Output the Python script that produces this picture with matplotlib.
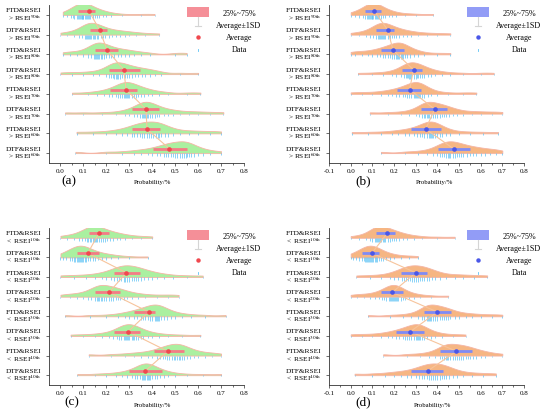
import numpy as np
import matplotlib
matplotlib.use('Agg')
import matplotlib.pyplot as plt
from matplotlib.patches import Rectangle
from matplotlib.lines import Line2D

plt.rcParams['font.family'] = ['Liberation Serif', 'DejaVu Serif']
plt.rcParams['mathtext.fontset'] = 'stix'

# row labels, top to bottom
labels_gt = ['FTD&RSEI\n> RSEI$^{\\mathrm{90th}}$', 'DTF&RSEI\n> RSEI$^{\\mathrm{90th}}$',
             'FTD&RSEI\n> RSEI$^{\\mathrm{80th}}$', 'DTF&RSEI\n> RSEI$^{\\mathrm{80th}}$',
             'FTD&RSEI\n> RSEI$^{\\mathrm{70th}}$', 'DTF&RSEI\n> RSEI$^{\\mathrm{70th}}$',
             'FTD&RSEI\n> RSEI$^{\\mathrm{60th}}$', 'DTF&RSEI\n> RSEI$^{\\mathrm{60th}}$']
labels_lt = ['FTD&RSEI\n<  RSEI$^{\\mathrm{10th}}$', 'DTF&RSEI\n<  RSEI$^{\\mathrm{10th}}$',
             'FTD&RSEI\n<  RSEI$^{\\mathrm{20th}}$', 'DTF&RSEI\n<  RSEI$^{\\mathrm{20th}}$',
             'FTD&RSEI\n<  RSEI$^{\\mathrm{30th}}$', 'DTF&RSEI\n<  RSEI$^{\\mathrm{30th}}$',
             'FTD&RSEI\n<  RSEI$^{\\mathrm{40th}}$', 'DTF&RSEI\n<  RSEI$^{\\mathrm{40th}}$']

mean_a = [0.123, 0.171, 0.203, 0.276, 0.286, 0.373, 0.377, 0.475]
q25_a = [0.077, 0.128, 0.152, 0.210, 0.218, 0.310, 0.312, 0.403]
q75_a = [0.152, 0.203, 0.250, 0.345, 0.334, 0.428, 0.435, 0.552]

mean_b = [0.108, 0.172, 0.195, 0.290, 0.272, 0.388, 0.346, 0.475]
q25_b = [0.068, 0.118, 0.138, 0.238, 0.215, 0.326, 0.277, 0.403]
q75_b = [0.138, 0.200, 0.246, 0.330, 0.326, 0.446, 0.415, 0.550]

mean_c = [0.167, 0.119, 0.287, 0.212, 0.385, 0.295, 0.467, 0.370]
q25_c = [0.123, 0.073, 0.235, 0.152, 0.320, 0.232, 0.406, 0.297]
q75_c = [0.210, 0.167, 0.345, 0.260, 0.414, 0.348, 0.537, 0.443]

mean_d = [0.168, 0.098, 0.300, 0.192, 0.400, 0.275, 0.488, 0.356]
q25_d = [0.115, 0.054, 0.234, 0.141, 0.337, 0.210, 0.410, 0.280]
q75_d = [0.203, 0.130, 0.350, 0.240, 0.462, 0.337, 0.560, 0.425]

# data points (rug) per row
data_a = [
    [0.01, 0.03, 0.045, 0.055, 0.06, 0.07, 0.075, 0.08, 0.085, 0.09, 0.092, 0.095, 0.1, 0.1, 0.105, 0.11, 0.115, 0.12, 0.125, 0.13, 0.14, 0.15, 0.16, 0.17, 0.185, 0.2, 0.22, 0.27, 0.35, 0.41],
    [0.0, 0.03, 0.06, 0.08, 0.095, 0.105, 0.11, 0.115, 0.12, 0.125, 0.13, 0.135, 0.14, 0.145, 0.15, 0.16, 0.165, 0.175, 0.185, 0.195, 0.21, 0.225, 0.24, 0.26, 0.28, 0.3, 0.33, 0.37, 0.43],
    [0.01, 0.04, 0.07, 0.1, 0.12, 0.135, 0.145, 0.15, 0.155, 0.16, 0.165, 0.17, 0.175, 0.18, 0.19, 0.2, 0.21, 0.22, 0.235, 0.25, 0.265, 0.28, 0.3, 0.32, 0.35, 0.39, 0.5, 0.55],
    [0.0, 0.05, 0.1, 0.14, 0.17, 0.2, 0.21, 0.22, 0.23, 0.235, 0.24, 0.245, 0.25, 0.26, 0.27, 0.28, 0.29, 0.3, 0.31, 0.325, 0.34, 0.355, 0.37, 0.39, 0.41, 0.44, 0.52, 0.6],
    [0.05, 0.12, 0.16, 0.19, 0.21, 0.225, 0.24, 0.25, 0.26, 0.27, 0.275, 0.28, 0.285, 0.29, 0.295, 0.3, 0.31, 0.32, 0.33, 0.34, 0.35, 0.365, 0.38, 0.4, 0.43, 0.47, 0.55, 0.61],
    [0.02, 0.1, 0.18, 0.24, 0.28, 0.3, 0.32, 0.335, 0.345, 0.355, 0.36, 0.365, 0.37, 0.375, 0.38, 0.39, 0.4, 0.41, 0.42, 0.43, 0.45, 0.47, 0.49, 0.52, 0.56, 0.6, 0.65, 0.71],
    [0.07, 0.14, 0.2, 0.24, 0.27, 0.29, 0.31, 0.32, 0.335, 0.345, 0.355, 0.365, 0.375, 0.385, 0.395, 0.405, 0.415, 0.425, 0.43, 0.44, 0.455, 0.47, 0.49, 0.52, 0.56, 0.6, 0.65, 0.7],
    [0.065, 0.2, 0.27, 0.32, 0.35, 0.38, 0.4, 0.42, 0.435, 0.45, 0.46, 0.47, 0.48, 0.49, 0.5, 0.51, 0.52, 0.53, 0.54, 0.545, 0.55, 0.56, 0.57, 0.58, 0.6, 0.62, 0.65, 0.7],
]
data_b = [
    [0.0, 0.02, 0.04, 0.055, 0.065, 0.075, 0.08, 0.085, 0.09, 0.095, 0.1, 0.1, 0.105, 0.11, 0.115, 0.12, 0.125, 0.13, 0.14, 0.15, 0.16, 0.175, 0.19, 0.21, 0.25, 0.3, 0.38],
    [0.0, 0.04, 0.07, 0.09, 0.105, 0.115, 0.125, 0.13, 0.135, 0.14, 0.145, 0.15, 0.155, 0.16, 0.17, 0.18, 0.19, 0.2, 0.21, 0.225, 0.24, 0.26, 0.28, 0.31, 0.35, 0.4, 0.46],
    [0.0, 0.02, 0.05, 0.08, 0.1, 0.12, 0.135, 0.15, 0.16, 0.17, 0.18, 0.19, 0.2, 0.21, 0.215, 0.22, 0.225, 0.23, 0.235, 0.24, 0.25, 0.26, 0.275, 0.29, 0.31, 0.34, 0.4, 0.46],
    [0.034, 0.1, 0.15, 0.19, 0.21, 0.23, 0.245, 0.255, 0.26, 0.265, 0.27, 0.275, 0.28, 0.29, 0.3, 0.305, 0.31, 0.32, 0.33, 0.34, 0.355, 0.37, 0.39, 0.42, 0.46, 0.52, 0.6, 0.66],
    [0.0, 0.05, 0.1, 0.14, 0.17, 0.19, 0.21, 0.225, 0.24, 0.25, 0.26, 0.27, 0.28, 0.29, 0.295, 0.3, 0.305, 0.31, 0.315, 0.32, 0.33, 0.34, 0.355, 0.37, 0.4, 0.45, 0.52, 0.58],
    [0.088, 0.17, 0.23, 0.27, 0.3, 0.315, 0.33, 0.34, 0.345, 0.35, 0.355, 0.36, 0.37, 0.38, 0.39, 0.4, 0.41, 0.42, 0.43, 0.44, 0.455, 0.47, 0.49, 0.52, 0.56, 0.6, 0.65, 0.7],
    [0.005, 0.08, 0.14, 0.19, 0.22, 0.25, 0.27, 0.29, 0.305, 0.32, 0.33, 0.34, 0.35, 0.36, 0.365, 0.37, 0.375, 0.38, 0.39, 0.4, 0.41, 0.42, 0.44, 0.46, 0.5, 0.55, 0.61, 0.68],
    [0.14, 0.25, 0.31, 0.35, 0.38, 0.4, 0.41, 0.42, 0.43, 0.44, 0.45, 0.455, 0.46, 0.47, 0.48, 0.49, 0.5, 0.51, 0.52, 0.535, 0.55, 0.565, 0.58, 0.6, 0.62, 0.645, 0.67, 0.7],
]
data_c = [
    [0.0, 0.03, 0.06, 0.08, 0.095, 0.105, 0.115, 0.12, 0.13, 0.135, 0.14, 0.145, 0.15, 0.155, 0.16, 0.17, 0.175, 0.185, 0.195, 0.205, 0.215, 0.23, 0.245, 0.26, 0.28, 0.31, 0.35, 0.4],
    [0.0, 0.01, 0.025, 0.04, 0.05, 0.06, 0.065, 0.07, 0.075, 0.08, 0.085, 0.09, 0.095, 0.1, 0.105, 0.11, 0.12, 0.13, 0.14, 0.15, 0.165, 0.18, 0.2, 0.22, 0.25, 0.3, 0.38],
    [0.0, 0.06, 0.11, 0.15, 0.18, 0.2, 0.22, 0.235, 0.245, 0.255, 0.265, 0.275, 0.28, 0.29, 0.3, 0.31, 0.32, 0.33, 0.34, 0.35, 0.365, 0.38, 0.4, 0.42, 0.45, 0.49, 0.55, 0.62],
    [0.0, 0.04, 0.07, 0.1, 0.12, 0.135, 0.15, 0.16, 0.165, 0.17, 0.175, 0.18, 0.19, 0.2, 0.21, 0.22, 0.23, 0.24, 0.25, 0.26, 0.275, 0.29, 0.31, 0.34, 0.37, 0.42, 0.47, 0.515],
    [0.02, 0.13, 0.2, 0.25, 0.28, 0.3, 0.32, 0.335, 0.35, 0.36, 0.37, 0.38, 0.39, 0.4, 0.41, 0.415, 0.42, 0.425, 0.43, 0.44, 0.45, 0.465, 0.48, 0.5, 0.53, 0.57, 0.63, 0.72],
    [0.044, 0.1, 0.15, 0.18, 0.21, 0.23, 0.245, 0.255, 0.265, 0.275, 0.28, 0.285, 0.29, 0.295, 0.3, 0.31, 0.315, 0.32, 0.33, 0.34, 0.35, 0.36, 0.38, 0.4, 0.43, 0.47, 0.53, 0.61],
    [0.123, 0.22, 0.28, 0.32, 0.35, 0.38, 0.4, 0.42, 0.435, 0.445, 0.455, 0.465, 0.475, 0.485, 0.495, 0.5, 0.51, 0.515, 0.52, 0.53, 0.54, 0.55, 0.565, 0.58, 0.6, 0.63, 0.66, 0.7],
    [0.073, 0.15, 0.2, 0.24, 0.27, 0.29, 0.31, 0.325, 0.335, 0.345, 0.355, 0.36, 0.365, 0.37, 0.375, 0.38, 0.385, 0.39, 0.4, 0.41, 0.42, 0.435, 0.45, 0.47, 0.5, 0.55, 0.62, 0.7],
]
data_d = [
    [0.0, 0.04, 0.07, 0.09, 0.1, 0.11, 0.115, 0.12, 0.125, 0.13, 0.135, 0.14, 0.15, 0.155, 0.16, 0.17, 0.18, 0.19, 0.2, 0.21, 0.225, 0.24, 0.26, 0.29, 0.33, 0.4, 0.48],
    [0.0, 0.01, 0.025, 0.04, 0.05, 0.06, 0.065, 0.07, 0.075, 0.08, 0.085, 0.09, 0.095, 0.1, 0.105, 0.11, 0.115, 0.12, 0.13, 0.14, 0.15, 0.165, 0.18, 0.2, 0.23, 0.27, 0.31],
    [0.026, 0.09, 0.14, 0.18, 0.2, 0.22, 0.235, 0.245, 0.255, 0.265, 0.275, 0.285, 0.29, 0.3, 0.31, 0.32, 0.33, 0.34, 0.35, 0.36, 0.375, 0.39, 0.41, 0.44, 0.48, 0.52, 0.57, 0.63],
    [0.0, 0.03, 0.06, 0.09, 0.11, 0.13, 0.145, 0.155, 0.165, 0.175, 0.18, 0.185, 0.19, 0.195, 0.2, 0.205, 0.21, 0.215, 0.22, 0.23, 0.24, 0.25, 0.27, 0.29, 0.32, 0.37, 0.45],
    [0.08, 0.18, 0.24, 0.28, 0.31, 0.33, 0.34, 0.35, 0.355, 0.36, 0.365, 0.37, 0.38, 0.39, 0.4, 0.41, 0.42, 0.43, 0.44, 0.45, 0.46, 0.48, 0.5, 0.53, 0.56, 0.6, 0.65, 0.7],
    [0.0, 0.05, 0.1, 0.14, 0.17, 0.19, 0.21, 0.225, 0.24, 0.25, 0.26, 0.27, 0.28, 0.29, 0.3, 0.305, 0.31, 0.315, 0.32, 0.33, 0.34, 0.35, 0.37, 0.39, 0.42, 0.47, 0.53],
    [0.15, 0.26, 0.32, 0.36, 0.39, 0.41, 0.42, 0.43, 0.44, 0.445, 0.45, 0.46, 0.47, 0.48, 0.49, 0.5, 0.51, 0.52, 0.53, 0.54, 0.55, 0.565, 0.58, 0.6, 0.62, 0.65, 0.7],
    [0.018, 0.1, 0.16, 0.2, 0.23, 0.26, 0.28, 0.3, 0.315, 0.33, 0.34, 0.35, 0.36, 0.37, 0.38, 0.39, 0.4, 0.41, 0.42, 0.43, 0.44, 0.455, 0.47, 0.49, 0.52, 0.56, 0.61, 0.67],
]

W, H = 550, 413
EDGE = '#F5B5A5'
RUG = '#5CC2F4'
LINK = '#F7C49C'


def kde(vals, grid, bw=0.035):
    return np.exp(-0.5 * ((grid[:, None] - vals[None, :]) / bw) ** 2).sum(1)


def fig_xy(px, py):
    return px / W, 1 - py / H


fig = plt.figure(figsize=(5.5, 4.13), dpi=100)


def panel(box, data, mean, q25, q75, labels, fill, bar, dot, xmin, tick0, tag, tag_xy, xl_xy):
    left, top, right, bottom = box
    x0, y1 = fig_xy(left, top)
    x1, y0 = fig_xy(right, bottom)
    ax = fig.add_axes([x0, y0, x1 - x0, y1 - y0])
    for i in range(8):
        y = 7 - i
        v = np.array(data[i])
        g = np.linspace(v.min(), v.max(), 300)
        d = kde(v, g)
        h = 0.6 * d / d.max()
        ax.fill_between(g, y, y + h, facecolor=fill, edgecolor=EDGE, lw=0.6, zorder=1)
        L = 0.04 + 0.19 * kde(v, v) / d.max()
        ax.vlines(v, y - L, y, color=RUG, lw=0.5, zorder=2)
        ax.plot([q25[i], q75[i]], [y + 0.22] * 2, color=bar, lw=2.0,
                solid_capstyle='butt', zorder=4)
    ys = 7 - np.arange(8) + 0.22
    ax.plot(mean, ys, color=LINK, lw=0.8, zorder=3)
    ax.scatter(mean, ys, s=11, color=dot, lw=0, zorder=5)

    major = np.round(np.arange(tick0, 0.801, 0.1), 2)
    ax.set_xlim(xmin, 0.8)
    ax.set_ylim(-0.5, 7.5)
    ax.set_xticks(major)
    ax.set_xticks(np.round(np.arange(tick0, 0.801, 0.05), 3), minor=True)
    ax.set_xticklabels(['%.1f' % t for t in major])
    ax.set_yticks(7 - np.arange(8))
    ax.set_yticklabels(labels, linespacing=0.95)
    for s in ['top', 'right']:
        ax.spines[s].set_visible(False)
    for s in ['left', 'bottom']:
        ax.spines[s].set_linewidth(0.6)
        ax.spines[s].set_color('#333333')
    ax.tick_params(axis='both', direction='out', width=0.5, color='#333333')
    ax.tick_params(axis='x', length=2.5, labelsize=5, pad=2)
    ax.tick_params(axis='x', which='minor', length=1.5, width=0.4)
    ax.tick_params(axis='y', length=2.5, labelsize=5.3, pad=3)

    # legend drawn by hand
    lx, ly = fig_xy(left + 138, top + 12)
    rw = 22 / W
    rh = 10 / H
    fig.add_artist(Rectangle((lx, ly), rw, rh, transform=fig.transFigure,
                             facecolor=bar, edgecolor='none', alpha=0.85))
    cx = left + 149
    a, b = fig_xy(cx, top + 12)
    c, d_ = fig_xy(cx, top + 21)
    fig.add_artist(Line2D([a, c], [b, d_], transform=fig.transFigure, color='#D5D5D5', lw=0.8))
    e1, f1 = fig_xy(cx - 3, top + 21)
    e2, f2 = fig_xy(cx + 3, top + 21)
    fig.add_artist(Line2D([e1, e2], [f1, f2], transform=fig.transFigure, color='#D5D5D5', lw=0.8))
    mx, my = fig_xy(cx, top + 32)
    fig.add_artist(Line2D([mx], [my], transform=fig.transFigure, marker='o', ms=3.2,
                          color=dot, mec='none', ls='none'))
    t1, u1 = fig_xy(cx, top + 44)
    t2, u2 = fig_xy(cx, top + 46)
    fig.add_artist(Line2D([t1, t2], [u1, u2], transform=fig.transFigure, color=RUG, lw=0.6))
    for k, txt in enumerate(['25%~75%', 'Average\u00b11SD', 'Average', 'Data']):
        tx, ty = fig_xy(left + 190, top + 9 + 12 * k)
        fig.text(tx, ty, txt, ha='center', va='center', fontsize=5.8)

    px_, py_ = fig_xy(*tag_xy)
    fig.text(px_, py_, tag, ha='center', va='center', fontsize=9.5)
    qx, qy = fig_xy(*xl_xy)
    fig.text(qx, qy, 'Probability/%', ha='center', va='center', fontsize=4.8)
    return ax


GREEN = '#AAF0A0'
ORANGE = '#F6B683'
PINK = '#F47C86'
RED = '#F0484E'
LBLUE = '#7F8BF5'
BLUE = '#4A57E8'

panel((49, 5, 244, 163), data_a, mean_a, q25_a, q75_a, labels_gt, GREEN, PINK, RED,
      -0.05, 0.0, '(a)', (69, 181), (152, 183))
panel((329, 5, 524, 163), data_b, mean_b, q25_b, q75_b, labels_gt, ORANGE, LBLUE, BLUE,
      -0.1, -0.1, '(b)', (363, 181), (435, 183))
panel((49, 228, 244, 385), data_c, mean_c, q25_c, q75_c, labels_lt, GREEN, PINK, RED,
      -0.05, 0.0, '(c)', (72, 402), (152, 405))
panel((329, 228, 524, 385), data_d, mean_d, q25_d, q75_d, labels_lt, ORANGE, LBLUE, BLUE,
      -0.1, -0.1, '(d)', (363, 402), (432, 405))

fig.savefig('out.png', dpi=100)
